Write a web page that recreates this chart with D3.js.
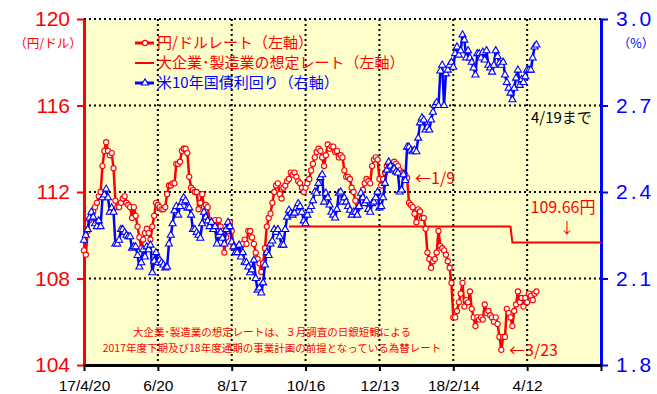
<!DOCTYPE html>
<html>
<head>
<meta charset="utf-8">
<script src="https://cdn.jsdelivr.net/npm/d3@7"></script>
<style>
  html, body { margin: 0; padding: 0; background: #fff; }
  svg { display: block; }
  text { font-family: "Noto Sans CJK JP", "Noto Sans", sans-serif; }
  .num { font-family: "Liberation Sans Narrow", "Liberation Sans", Arial, sans-serif; }
  .date { font-family: "Liberation Sans", Arial, sans-serif; }
</style>
</head>
<body>
<div id="chart"></div>
<script>
// business-day index axis: tick every 40 trading days
const tickIndex  = [0, 40, 80, 120, 160, 200, 240, 280];
const tickLabels = ['17/4/20', '6/20', '8/17', '10/16', '12/13', '18/2/14', '4/12', ''];

const leftTicks  = [104, 108, 112, 116, 120];
const rightTicks = [1.8, 2.1, 2.4, 2.7, 3.0];

// 円/ドルレート (daily, 17/4/20 .. 18/4/19)
const usdjpy = [
  109.3,109.1,110.2,110.7,111.0,111.1,111.3,111.5,111.8,112.0,
  113.2,113.9,114.3,113.9,113.7,113.8,113.1,111.6,111.3,111.3,
  111.5,111.7,111.8,111.5,111.4,111.3,110.8,111.3,110.9,110.4,
  109.9,109.4,109.8,110.1,110.3,110.1,109.8,110.4,110.9,111.5,
  111.4,111.3,111.2,111.2,111.3,111.9,112.3,112.3,112.4,112.4,
  113.3,113.3,113.4,113.9,114.0,114.0,113.8,112.7,112.2,112.1,
  112.0,112.0,111.2,111.5,111.9,111.3,111.4,111.3,110.7,110.6,
  110.6,110.7,110.2,110.7,110.4,110.2,109.2,109.9,110.2,110.6,
  110.2,109.5,109.4,109.45,109.5,109.5,109.6,109.8,109.6,110.2,
  110.2,109.9,109.6,109.2,108.9,108.7,108.3,108.7,109.4,110.4,
  110.8,111.0,111.5,112.0,112.3,112.4,111.9,111.7,112.2,112.3,
  112.5,112.6,112.9,112.8,112.9,112.7,112.5,112.4,112.2,112.0,
  112.2,112.4,112.6,113.0,113.3,113.6,113.85,114.0,113.9,113.6,
  113.2,113.7,114.2,114.0,114.1,114.1,113.85,113.9,113.6,113.7,
  113.6,113.0,112.7,112.7,112.6,112.2,112.0,111.6,111.2,111.3,
  111.6,112.1,112.4,112.6,112.5,112.4,113.2,113.5,113.6,113.5,
  112.6,112.3,112.6,112.9,113.2,113.3,113.3,113.3,113.4,113.3,
  113.2,113.0,112.9,112.9,112.8,112.65,111.5,111.4,111.3,111.0,
  110.6,111.2,111.1,110.8,110.8,110.3,109.2,108.9,108.5,108.8,
  108.9,109.2,110.2,109.5,109.4,109.3,109.1,108.8,108.5,107.8,
  106.2,106.2,106.5,106.9,107.3,107.8,106.7,107.0,106.9,107.4,
  106.6,106.2,105.8,106.2,106.1,106.2,106.1,106.8,106.4,106.5,
  106.3,106.2,106.0,106.2,105.9,105.3,104.7,105.3,105.3,106.6,
  106.4,106.2,105.8,106.5,106.8,107.4,106.9,107.1,106.7,107.1,
  106.9,107.3,107.2,107.0,107.3,107.4
];

// 米10年国債利回り (%)
const ust10y = [
  2.233,2.25,2.27,2.31,2.33,2.313,2.29,2.28,2.30,2.28,
  2.38,2.39,2.41,2.38,2.33,2.345,2.33,2.22,2.22,2.233,
  2.27,2.27,2.26,2.25,2.245,2.245,2.205,2.21,2.21,2.18,
  2.14,2.155,2.20,2.175,2.21,2.20,2.216,2.12,2.16,2.19,
  2.155,2.164,2.155,2.147,2.137,2.14,2.22,2.25,2.29,2.335,
  2.35,2.32,2.35,2.365,2.38,2.37,2.345,2.345,2.32,2.27,
  2.27,2.26,2.25,2.24,2.29,2.33,2.313,2.30,2.28,2.295,
  2.27,2.28,2.22,2.25,2.26,2.24,2.22,2.27,2.295,2.28,
  2.227,2.21,2.19,2.19,2.216,2.175,2.19,2.157,2.155,2.14,
  2.12,2.13,2.164,2.10,2.06,2.067,2.05,2.085,2.147,2.19,
  2.18,2.22,2.23,2.27,2.26,2.27,2.245,2.216,2.216,2.27,
  2.313,2.337,2.327,2.32,2.327,2.345,2.36,2.35,2.33,2.30,
  2.29,2.32,2.337,2.35,2.37,2.40,2.396,2.43,2.45,2.46,
  2.365,2.396,2.38,2.355,2.33,2.32,2.31,2.34,2.396,2.40,
  2.365,2.38,2.365,2.35,2.337,2.32,2.33,2.33,2.32,2.35,
  2.396,2.38,2.36,2.37,2.34,2.33,2.36,2.365,2.38,2.40,
  2.345,2.35,2.38,2.43,2.476,2.504,2.49,2.476,2.48,2.47,
  2.466,2.40,2.407,2.46,2.44,2.556,2.556,2.545,2.54,2.545,
  2.54,2.587,2.64,2.657,2.65,2.615,2.625,2.615,2.65,2.677,
  2.70,2.71,2.70,2.82,2.84,2.70,2.81,2.823,2.84,2.85,
  2.833,2.88,2.903,2.875,2.89,2.945,2.927,2.865,2.89,2.865,
  2.85,2.83,2.806,2.88,2.88,2.865,2.885,2.858,2.89,2.84,
  2.83,2.816,2.84,2.89,2.87,2.847,2.84,2.85,2.806,2.78,
  2.76,2.743,2.72,2.76,2.795,2.823,2.77,2.79,2.78,2.80,
  2.823,2.823,2.823,2.865,2.903,2.91
];

// 大企業・製造業の想定レート (index from/to, value)
const assumedFrom  = [111, 232];
const assumedTo    = [231, 280];
const assumedValue = [110.40, 109.66];

const W = 657, H = 394;
const M = { left: 84, right: 601, top: 19, bottom: 365 };
const RED = '#ff0000', BLUE = '#0000ff';

const svg = d3.select('#chart').append('svg').attr('width', W).attr('height', H);

const x  = d3.scaleLinear().domain([0, 280]).range([M.left, M.right]);
const yL = d3.scaleLinear().domain([104, 120]).range([M.bottom, M.top]);
const yR = d3.scaleLinear().domain([1.8, 3.0]).range([M.bottom, M.top]);

svg.append('rect')
  .attr('x', M.left).attr('y', M.top)
  .attr('width', M.right - M.left).attr('height', M.bottom - M.top)
  .attr('fill', '#ffffcc');

// ---- dotted grid ----
const grid = svg.append('g').attr('stroke', '#000').attr('stroke-width', 2).attr('stroke-dasharray', '2,3');
grid.selectAll('line.h').data(leftTicks.slice(1)).join('line')
  .attr('x1', M.left).attr('x2', M.right)
  .attr('y1', d => yL(d)).attr('y2', d => yL(d));
grid.selectAll('line.v').data(tickIndex.slice(1, -1)).join('line')
  .attr('x1', d => x(d)).attr('x2', d => x(d))
  .attr('y1', M.top).attr('y2', M.bottom);

// ---- axes ----
const axL = svg.append('g').attr('transform', `translate(${M.left},0)`)
  .call(d3.axisLeft(yL).tickValues(leftTicks).tickSize(7).tickSizeOuter(0).tickPadding(7));
axL.select('.domain').attr('stroke', RED).attr('stroke-width', 3);
axL.selectAll('.tick line').attr('stroke', RED).attr('stroke-width', 2);
axL.selectAll('.tick text').attr('class', 'num').attr('fill', RED).attr('font-size', 21).attr('dy', '0.33em');

const axR = svg.append('g').attr('transform', `translate(${M.right},0)`)
  .call(d3.axisRight(yR).tickValues(rightTicks).tickFormat(d3.format('.1f')).tickSize(7).tickSizeOuter(0).tickPadding(8));
axR.select('.domain').attr('stroke', BLUE).attr('stroke-width', 3);
axR.selectAll('.tick line').attr('stroke', BLUE).attr('stroke-width', 2);
axR.selectAll('.tick text').attr('class', 'num').attr('fill', BLUE).attr('font-size', 21)
  .attr('letter-spacing', 3).attr('dy', '0.33em');

const axB = svg.append('g').attr('transform', `translate(0,${M.bottom})`)
  .call(d3.axisBottom(x).tickValues(tickIndex).tickFormat((d, i) => tickLabels[i]).tickSize(6).tickSizeOuter(0));
axB.select('.domain').attr('stroke', '#000').attr('stroke-width', 3);
axB.selectAll('.tick line').attr('stroke', '#000').attr('stroke-width', 2);
axB.selectAll('.tick text').attr('class', 'date').attr('fill', '#000').attr('font-size', 15.5)
  .attr('y', 25.5).attr('dy', null);

// ---- series ----
const assumedPts = [];
assumedValue.forEach((v, k) => {
  assumedPts.push([assumedFrom[k], v], [assumedTo[k], v]);
});
svg.append('path')
  .attr('d', d3.line().x(d => x(d[0])).y(d => yL(d[1]))(assumedPts))
  .attr('fill', 'none').attr('stroke', RED).attr('stroke-width', 2);

svg.append('path')
  .attr('d', d3.line().x((d, i) => x(i)).y(d => yL(d))(usdjpy))
  .attr('fill', 'none').attr('stroke', RED).attr('stroke-width', 2.5).attr('stroke-linejoin', 'round');
svg.append('g').selectAll('circle').data(usdjpy).join('circle')
  .attr('cx', (d, i) => x(i)).attr('cy', d => yL(d)).attr('r', 2.6)
  .attr('fill', '#fff').attr('stroke', RED).attr('stroke-width', 1.1);

svg.append('path')
  .attr('d', d3.line().x((d, i) => x(i)).y(d => yR(d))(ust10y))
  .attr('fill', 'none').attr('stroke', BLUE).attr('stroke-width', 2.5).attr('stroke-linejoin', 'round');
const tri = d3.symbol(d3.symbolTriangle).size(22)();
svg.append('g').selectAll('path').data(ust10y).join('path')
  .attr('d', tri)
  .attr('transform', (d, i) => `translate(${x(i)},${yR(d)})`)
  .attr('fill', '#fff').attr('stroke', BLUE).attr('stroke-width', 1.1);

// ---- legend ----
const legend = [
  { label: '円/ドルレート（左軸）', color: RED, mark: 'circle', w: 3 },
  { label: '大企業･製造業の想定レート（左軸）', color: RED, mark: null, w: 2 },
  { label: '米10年国債利回り（右軸）', color: BLUE, mark: 'tri', w: 3 }
];
const lg = svg.append('g');
legend.forEach((d, k) => {
  const yy = 43 + k * 20;
  lg.append('line').attr('x1', 135).attr('x2', 154).attr('y1', yy).attr('y2', yy)
    .attr('stroke', d.color).attr('stroke-width', d.w);
  if (d.mark === 'circle') {
    lg.append('circle').attr('cx', 145).attr('cy', yy).attr('r', 2.6)
      .attr('fill', '#fff').attr('stroke', d.color).attr('stroke-width', 1.1);
  } else if (d.mark === 'tri') {
    lg.append('path').attr('d', tri).attr('transform', `translate(145,${yy})`)
      .attr('fill', '#fff').attr('stroke', d.color).attr('stroke-width', 1.1);
  }
  lg.append('text').attr('x', 157).attr('y', yy).attr('dy', '0.36em')
    .attr('font-size', 15).attr('fill', d.color).text(d.label);
});

// ---- units & notes ----
svg.append('text').attr('x', 48).attr('y', 43).attr('dy', '0.36em').attr('text-anchor', 'middle')
  .attr('font-size', 12.5).attr('fill', RED).text('（円/ドル）');
svg.append('text').attr('x', 636).attr('y', 43).attr('dy', '0.36em').attr('text-anchor', 'middle')
  .attr('font-size', 12.5).attr('fill', BLUE).text('（%）');

const note = (tx, ty, t, c, fs, anchor) => svg.append('text')
  .attr('x', tx).attr('y', ty).attr('dy', '0.36em').attr('text-anchor', anchor || 'start')
  .attr('font-size', fs).attr('fill', c).text(t);

note(531, 118, '4/19まで', '#000', 15);
note(415, 178, '←1/9', RED, 16);
note(563, 207, '109.66円', RED, 16, 'middle');
note(567, 228, '↓', RED, 15, 'middle');
note(509, 350, '←3/23', RED, 16);
note(272, 332, '大企業･製造業の想定レートは、３月調査の日銀短観による', RED, 10.5, 'middle');
note(272, 348, '2017年度下期及び18年度通期の事業計画の前提となっている為替レート', RED, 10.5, 'middle');
</script>
</body>
</html>
